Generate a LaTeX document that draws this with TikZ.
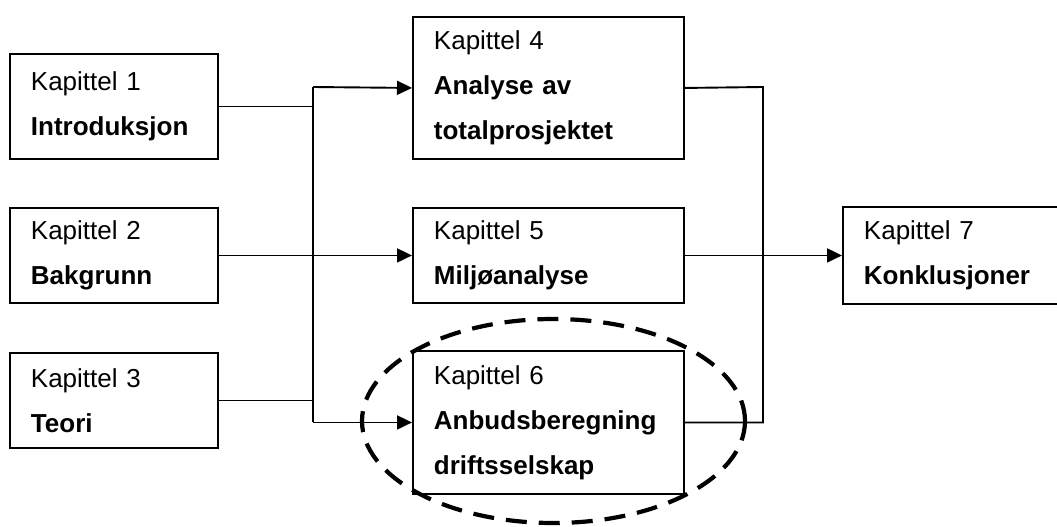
\documentclass[tikz,border=0pt]{standalone}
\usepackage{fontspec}
\setmainfont{Liberation Sans}
\usetikzlibrary{arrows.meta}

\begin{document}
\begin{tikzpicture}[
        x=1pt, y=-1pt,
        line width=1.9pt,
        chapter/.style={rectangle, draw, anchor=north west, align=left,
            inner xsep=21pt, inner ysep=0pt, font=\fontsize{26}{45}\selectfont},
        narrow/.style={chapter, text width=166pt},
        wide/.style={chapter, text width=229pt},
        highlight/.style={line width=4.2pt, dash pattern=on 21pt off 12pt},
        >={Triangle[length=15pt, width=14pt]}
    ]
        \useasboundingbox (0,0) rectangle (1057,527);

        \node[narrow, minimum height=105pt] (k1) at (9,53) {Kapittel 1\\\textbf{Introduksjon}};
        \node[narrow, minimum height=95pt] (k2) at (9,207) {Kapittel 2\\\textbf{Bakgrunn}};
        \node[narrow, minimum height=95pt] (k3) at (9,352) {Kapittel 3\\\textbf{Teori}};
        \node[wide, minimum height=142pt] (k4) at (412,16) {Kapittel 4\\\textbf{Analyse av}\\\textbf{totalprosjektet}};
        \node[wide, minimum height=95pt] (k5) at (412,207) {Kapittel 5\\\textbf{Miljøanalyse}};
        \node[wide, minimum height=143pt] (k6) at (412,350) {Kapittel 6\\\textbf{Anbudsberegning}\\\textbf{driftsselskap}};
        \node[chapter, text width=181pt, minimum height=97pt] (k7) at (842,206) {Kapittel 7\\\textbf{Konklusjoner}};

        \coordinate (ltop) at (313,87);
        \coordinate (lbot) at (k6.west -| ltop);
        \coordinate (rtop) at (763,87);
        \coordinate (rbot) at (k6.east -| rtop);

        \draw (k1.east) -| (ltop);
        \draw (k3.east) -| (lbot);
        \draw (ltop) -- (lbot);
        \draw[->] (ltop) -- (k4.west);
        \draw[->] (k2.east) -- (k5.west);
        \draw[->] (lbot) -- (k6.west);

        \draw (k4.east) -- (rtop) -- (rbot) -- (k6.east);
        \draw[->] (k5.east) -- (k7.west);

        \draw[highlight] (553.5,421) ellipse [x radius=191.5pt, y radius=102pt];
    \end{tikzpicture}
\end{document}
